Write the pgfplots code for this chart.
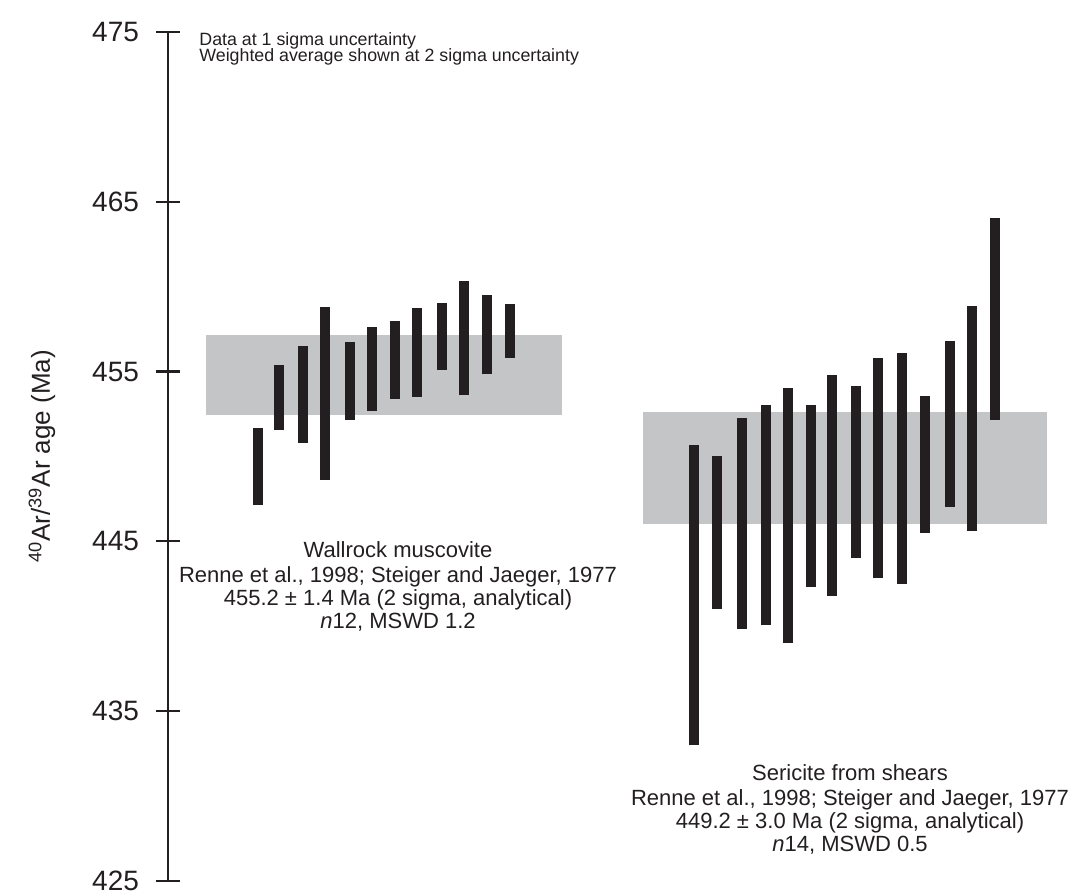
\documentclass[border=0pt]{standalone}
\usepackage{pgfplots}
\pgfplotsset{compat=1.18}
\usepackage{pgfplotstable}
\usepackage{fontspec}
\setmainfont{Liberation Sans}

\definecolor{ink}{HTML}{231F20}
\definecolor{avgfill}{HTML}{C4C5C7}

% Wallrock muscovite steps: each bar runs from the 1 sigma low to the
% 1 sigma high age (Ma); a nan row ends one bar
\pgfplotstableread{
x   age
258 447.14
258 451.70
nan nan
279 451.54
279 455.41
nan nan
303 450.81
303 456.51
nan nan
325 448.63
325 458.82
nan nan
350 452.15
350 456.73
nan nan
372 452.68
372 457.63
nan nan
395 453.40
395 457.98
nan nan
417 453.52
417 458.73
nan nan
442 455.08
442 459.06
nan nan
464 453.62
464 460.35
nan nan
487 454.84
487 459.49
nan nan
510 455.82
510 458.98
}\wallrock

% Sericite from shears steps, same layout
\pgfplotstableread{
x   age
694 432.99
694 450.69
nan nan
717 441.04
717 450.05
nan nan
742 439.86
742 452.29
nan nan
766 440.06
766 453.02
nan nan
788 439.00
788 454.02
nan nan
811 442.30
811 453.03
nan nan
832 441.78
832 454.78
nan nan
856 444.00
856 454.17
nan nan
878 442.84
878 455.78
nan nan
902 442.51
902 456.08
nan nan
925 445.48
925 453.58
nan nan
950 447.03
950 456.82
nan nan
972 445.61
972 458.85
nan nan
995 452.15
995 464.03
}\sericite

\begin{document}
\begin{tikzpicture}
\begin{axis}[
  scale only axis,
  width=454pt, height=424.5pt,
  xmin=168, xmax=1076,
  ymin=425, ymax=475,
  clip=false,
  axis x line=none,
  axis y line*=left,
  axis line style={line width=1.1pt, ink},
  ytick={425,435,...,475},
  tick align=center,
  major tick length=12pt,
  major tick style={line width=1.1pt, ink},
  /pgf/number format/assume math mode=true,
  yticklabel style={font=\fontsize{14}{16}\selectfont, text=ink, xshift=-5pt},
  ylabel={\textsuperscript{40}Ar/\textsuperscript{39}Ar age (Ma)},
  ylabel style={at={(axis description cs:-0.1388,0.5)}, anchor=center,
    font=\fontsize{13}{15}\selectfont, text=ink},
  unbounded coords=jump,
]

% weighted average bands (2 sigma)
\addplot[fill=avgfill, draw=none] coordinates
  {(206,452.44) (562,452.44) (562,457.16) (206,457.16)} -- cycle;
\addplot[fill=avgfill, draw=none] coordinates
  {(643,446.0) (1047,446.0) (1047,452.6) (643,452.6)} -- cycle;

% step ages (1 sigma)
\addplot[ink, line width=5pt, line cap=butt, mark=none] table[x=x, y=age] {\wallrock};
\addplot[ink, line width=5pt, line cap=butt, mark=none] table[x=x, y=age] {\sericite};

% notes
\begin{scope}[every node/.style={inner sep=0pt, text=ink}]
\node[anchor=base west, font=\fontsize{8.9}{10}\selectfont] at (axis cs:199,474.23) {Data at 1 sigma uncertainty};
\node[anchor=base west, font=\fontsize{8.9}{10}\selectfont] at (axis cs:199,473.25) {Weighted average shown at 2 sigma uncertainty};

\node[anchor=base, font=\fontsize{11}{12}\selectfont] at (axis cs:398,444.06) {Wallrock muscovite};
\node[anchor=base, font=\fontsize{11}{12}\selectfont] at (axis cs:398,442.57) {Renne et al., 1998; Steiger and Jaeger, 1977};
\node[anchor=base, font=\fontsize{11}{12}\selectfont] at (axis cs:398,441.21) {455.2 ± 1.4 Ma (2 sigma, analytical)};
\node[anchor=base, font=\fontsize{11}{12}\selectfont] at (axis cs:398,439.86) {\textit{n}12, MSWD 1.2};

\node[anchor=base, font=\fontsize{11}{12}\selectfont] at (axis cs:850,430.91) {Sericite from shears};
\node[anchor=base, font=\fontsize{11}{12}\selectfont] at (axis cs:850,429.46) {Renne et al., 1998; Steiger and Jaeger, 1977};
\node[anchor=base, font=\fontsize{11}{12}\selectfont] at (axis cs:850,428.08) {449.2 ± 3.0 Ma (2 sigma, analytical)};
\node[anchor=base, font=\fontsize{11}{12}\selectfont] at (axis cs:850,426.71) {\textit{n}14, MSWD 0.5};
\end{scope}

\coordinate (bbsw) at (axis cs:0,424.1755);
\coordinate (bbne) at (axis cs:1076,476.885);
\end{axis}
\pgfresetboundingbox
\path[use as bounding box] (bbsw) rectangle (bbne);
\end{tikzpicture}
\end{document}
